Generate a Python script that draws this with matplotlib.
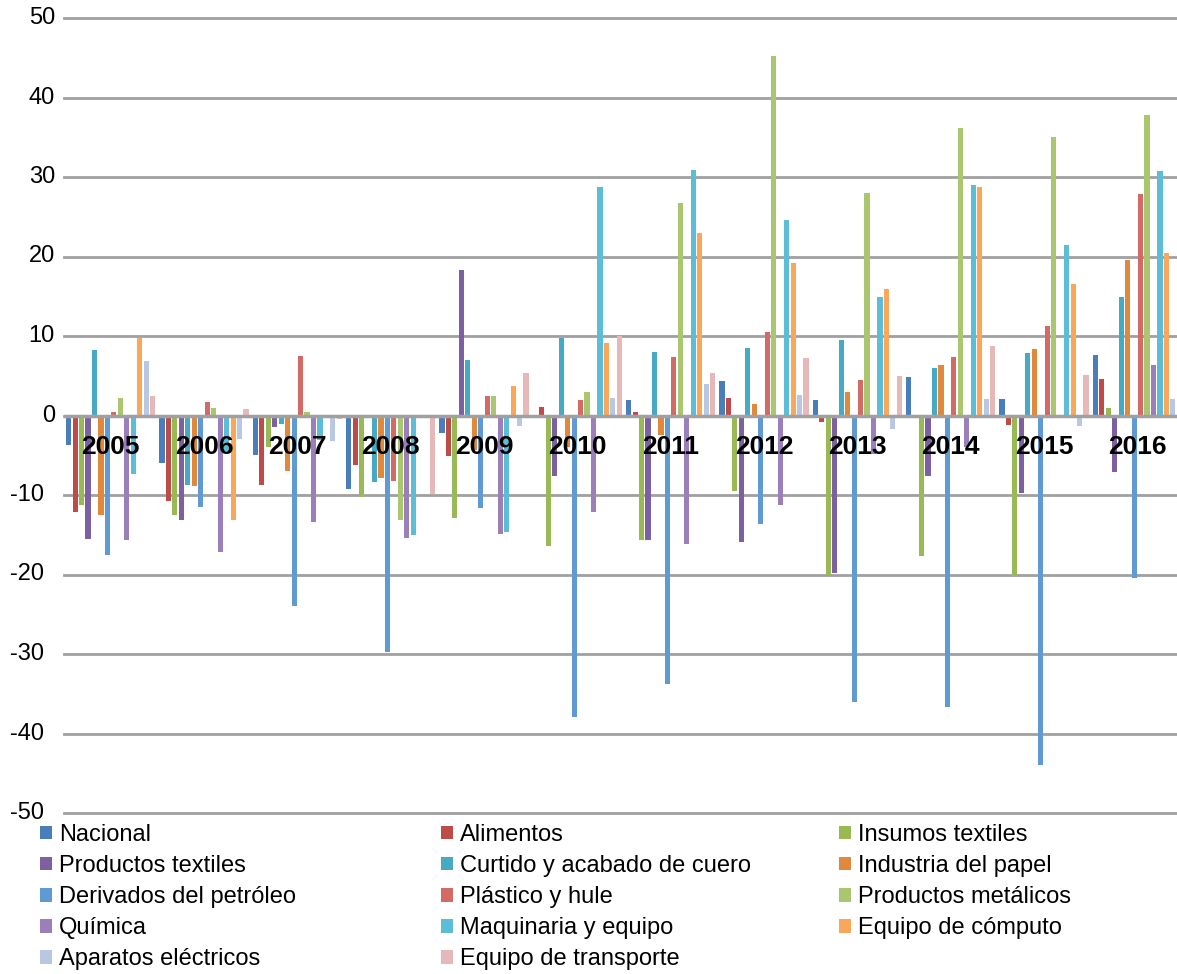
import numpy as np
import matplotlib
matplotlib.use("Agg")
import matplotlib.pyplot as plt
import matplotlib.transforms as mtransforms
from matplotlib.patches import Patch

plt.rcParams["font.family"] = ["Liberation Sans", "DejaVu Sans"]
plt.rcParams["axes.unicode_minus"] = False

years = ["2005", "2006", "2007", "2008", "2009", "2010",
         "2011", "2012", "2013", "2014", "2015", "2016"]

nacional = [-3.7, -6.0, -5.0, -9.2, -2.2, -0.3, 2.0, 4.3, 2.0, 4.9, 2.1, 7.6]
alimentos = [-12.2, -10.8, -8.8, -6.2, -5.1, 1.1, 0.5, 2.2, -0.8, -0.2, -1.2, 4.6]
insumos_textiles = [-11.3, -12.5, -4.0, -10.3, -12.9, -16.4, -15.7, -9.5, -20.1, -17.7, -20.2, 0.9]
productos_textiles = [-15.5, -13.2, -1.4, -0.1, 18.3, -7.6, -15.7, -15.9, -19.8, -7.6, -9.7, -7.1]
curtido = [8.3, -8.7, -1.1, -8.4, 7.0, 9.7, 8.0, 8.5, 9.5, 6.0, 7.9, 14.9]
papel = [-12.5, -8.9, -7.0, -7.9, -4.3, -4.0, -2.5, 1.4, 3.0, 6.3, 8.4, 19.6]
derivados = [-17.5, -11.5, -23.9, -29.7, -11.6, -37.9, -33.8, -13.6, -36.1, -36.7, -44.0, -20.4]
plastico = [0.5, 1.7, 7.5, -8.3, 2.5, 1.9, 7.4, 10.5, 4.5, 7.4, 11.3, 27.9]
metalicos = [2.2, 0.9, 0.4, -13.2, 2.5, 3.0, 26.7, 45.2, 28.0, 36.2, 35.0, 37.8]
quimica = [-15.6, -17.2, -13.4, -15.4, -14.9, -12.1, -16.2, -11.2, -4.8, -3.9, 0.0, 6.3]
maquinaria = [-7.4, -4.5, -3.1, -15.0, -14.7, 28.7, 30.9, 24.6, 14.9, 29.0, 21.5, 30.8]
computo = [9.8, -13.2, 0.0, -0.3, 3.7, 9.1, 22.9, 19.2, 15.9, 28.7, 16.6, 20.5]
aparatos = [6.8, -2.9, -3.2, -0.25, -1.35, 2.2, 3.9, 2.6, -1.7, 2.1, -1.3, 2.1]
transporte = [2.4, 0.8, -0.4, -9.9, 5.3, 10.0, 5.4, 7.2, 5.0, 8.7, 5.1, 5.6]

labels = ["Nacional", "Alimentos", "Insumos textiles", "Productos textiles",
          "Curtido y acabado de cuero", "Industria del papel",
          "Derivados del petróleo", "Plástico y hule", "Productos metálicos",
          "Química", "Maquinaria y equipo", "Equipo de cómputo",
          "Aparatos eléctricos", "Equipo de transporte"]
series = [nacional, alimentos, insumos_textiles, productos_textiles, curtido,
          papel, derivados, plastico, metalicos, quimica, maquinaria,
          computo, aparatos, transporte]
colors = ["#4A7EBB", "#BE4B48", "#98B954", "#7D60A0", "#46AAC5", "#E0893D",
          "#5F9BD2", "#D46A66", "#AAC66E", "#9A7FBA", "#5BBDD6", "#FAA75B",
          "#B9C8E2", "#E6B9B8"]

fig = plt.figure(figsize=(11.77, 9.74), dpi=100)
ax = fig.add_axes([64 / 1177, 161 / 974, 1120 / 1177, 795 / 974])

x = np.arange(len(years))
n = len(series)
slot = 0.97 / n
for i, (vals, col) in enumerate(zip(series, colors)):
    ax.bar(x + (i - (n - 1) / 2) * slot, vals, width=slot * 0.8,
           color=col, linewidth=0, zorder=3)

yticks = list(range(-50, 51, 10))
ax.set_ylim(-50, 50)
ax.set_xlim(-0.5, len(years) - 0.5)
ax.set_yticks(yticks)
ax.set_yticklabels([])
ax.yaxis.grid(True, color="#A0A0A0", linewidth=2, zorder=0)
for gl in ax.get_ygridlines():
    gl.set_clip_on(False)
ax.axhline(0, color="#A0A0A0", linewidth=2.5, zorder=4)
ax.set_xticks([])
for s in ax.spines.values():
    s.set_visible(False)
ax.tick_params(axis="y", length=0)

# value labels on the left; negatives sit a little further out
lab_trans = mtransforms.blended_transform_factory(fig.transFigure, ax.transData)
for v in yticks:
    right = 44 if v < 0 else 55
    ax.text(right / 1177, v, str(v), transform=lab_trans, ha="right",
            va="center", fontsize=17, clip_on=False)

# year names sit on the zero line, over the bars
for xi, yr in zip(x, years):
    ax.text(xi, -4.0, yr, ha="center", va="center", fontsize=19,
            fontweight="bold", zorder=5)

# legend in three columns, filled row by row
handles = [Patch(facecolor=c, edgecolor="none") for c in colors]
col_x = [40 / 1177, 441 / 1177, 839 / 1177]
for k in range(3):
    idx = list(range(k, n, 3))
    fig.legend([handles[i] for i in idx], [labels[i] for i in idx],
               loc="upper left", bbox_to_anchor=(col_x[k], 1 - 824 / 974),
               frameon=False, fontsize=17, handlelength=0.5, handleheight=0.5,
               handletextpad=0.3, labelspacing=0.385, borderpad=0,
               borderaxespad=0)

fig.savefig("out.png", dpi=100)
